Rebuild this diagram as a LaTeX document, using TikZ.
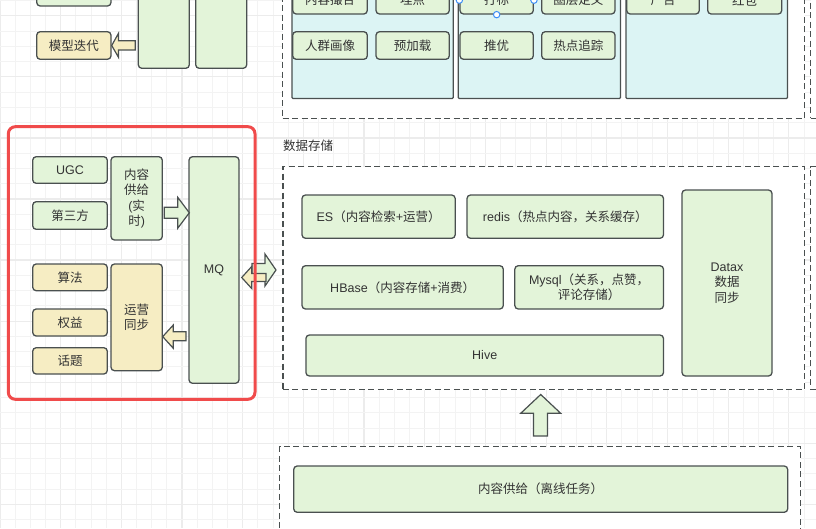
\documentclass[tikz,border=0pt]{standalone}
\usepackage{fontspec}
\setmainfont{Liberation Sans}
\newfontfamily\cjk{Noto Sans CJK SC}
\newcommand\C[1]{{\cjk #1}}
\newcommand\fs{\fontsize{12.5}{15.5}\selectfont}
\definecolor{bd}{HTML}{4A5050}
\definecolor{gfill}{HTML}{E3F4D9}
\definecolor{yfill}{HTML}{F6EDC3}
\definecolor{cfill}{HTML}{DCF4F4}
\definecolor{txt}{HTML}{333333}
\definecolor{redc}{HTML}{F04B4B}
\definecolor{gridmin}{HTML}{F3F3F3}
\definecolor{gridmaj}{HTML}{ECECEC}
\definecolor{handle}{HTML}{3D8EF7}
\tikzset{
  base/.style={draw=bd, line width=1.3pt, rounded corners=3.5pt, text=txt, align=center, inner sep=1pt, font=\fs},
  gbox/.style={base, fill=gfill},
  ybox/.style={base, fill=yfill},
  panel/.style={draw=bd, line width=1.3pt, fill=cfill, rounded corners=1pt},
  dashbox/.style={draw=bd, line width=1.2pt, dash pattern=on 6pt off 3.5pt, fill=white},
  redbox/.style={draw=redc, line width=3pt, rounded corners=7pt},
  garrow/.style={draw=bd, line width=1.2pt, fill=gfill, line join=miter},
  yarrow/.style={draw=bd, line width=1.2pt, fill=yfill, line join=miter},
  hdl/.style={draw=handle, line width=1pt, fill=white},
}
\newcommand\BX[7]{\node[#1, minimum width={(#5)-(#3)}, minimum height={(#6)-(#4)}] (#2) at ({((#3)+(#5))/2},{((#4)+(#6))/2}) {#7};}
\begin{document}
\begin{tikzpicture}[x=1pt,y=-1pt]
\useasboundingbox (0,0) rectangle (816,528);
\clip (0,0) rectangle (816,528);
% grid
\foreach \i in {0,...,54}{
  \pgfmathtruncatemacro\m{mod(\i,4)}
  \ifnum\m=0 \draw[gridmaj,line width=1.2pt] ({15.17*\i},0) -- ++(0,528);
  \else \draw[gridmin,line width=1pt] ({15.17*\i},0) -- ++(0,528); \fi
}
\foreach \j in {0,...,35}{
  \pgfmathtruncatemacro\m{mod(\j,4)}
  \ifnum\m=1 \draw[gridmaj,line width=1.2pt] (0,{0.5+15.27*\j}) -- ++(816,0);
  \else \draw[gridmin,line width=1pt] (0,{0.5+15.27*\j}) -- ++(816,0); \fi
}
% containers
\BX{dashbox}{topc}{282.7}{-10}{804.8}{118.3}{}
\BX{dashbox}{topr}{810.7}{-10}{840}{118.3}{}
\BX{dashbox}{store}{282.9}{166.7}{804.5}{389.5}{}
\BX{dashbox}{storer}{810.7}{166.7}{840}{389.5}{}
\BX{dashbox}{offc}{279.7}{446.7}{800.7}{545}{}
% panels
\BX{panel}{p1}{292}{-10}{453.3}{98.5}{}
\BX{panel}{p2}{458.3}{-10}{620.5}{98.5}{}
\BX{panel}{p3}{626}{-10}{787.5}{98.5}{}
% top row
\BX{gbox}{t1}{292.7}{-13.6}{367.3}{14}{\C{内容撮合}}
\BX{gbox}{t2}{376}{-13.6}{449.3}{14}{\C{埋点}}
\BX{gbox}{t3}{460}{-13.6}{533.3}{14}{\C{打标}}
\BX{gbox}{t4}{541.7}{-13.6}{615}{14}{\C{圈层定义}}
\BX{gbox}{t5}{626.7}{-13.6}{699.3}{14}{\C{广告}}
\BX{gbox}{t6}{707.7}{-13.6}{781.7}{14}{\C{红包}}
\BX{gbox}{r1}{292.7}{31.7}{367.3}{59.3}{\C{人群画像}}
\BX{gbox}{r2}{376}{31.7}{449.3}{59.3}{\C{预加载}}
\BX{gbox}{r3}{460}{31.7}{533.3}{59.3}{\C{推优}}
\BX{gbox}{r4}{541.7}{31.7}{615}{59.3}{\C{热点追踪}}
% selection handles
\draw[hdl] (t3.west) circle (3.2);
\draw[hdl] (t3.east) circle (3.2);
\draw[hdl] (t3.south) circle (3.2);
% top-left
\BX{gbox}{tl0}{36.7}{-21.6}{111}{6}{}
\BX{ybox}{mx}{36.7}{31.7}{111}{59.3}{\C{模型迭代}}
\BX{gbox}{tall1}{138.3}{-10}{189.3}{68.3}{}
\BX{gbox}{tall2}{195.7}{-10}{246.7}{68.3}{}
\draw[yarrow] (135.3,40.7) -- (118.5,40.7) -- (118.5,33.3) -- (111.7,45.5) -- (118.5,57.3) -- (118.5,50) -- (135.3,50) -- cycle;
% left group
\BX{gbox}{ugc}{32.7}{156.7}{107.3}{183.3}{UGC}
\BX{gbox}{dsf}{32.7}{201.7}{107.3}{229.3}{\C{第三方}}
\BX{gbox}{nrgj}{111}{156.7}{162.3}{240}{\C{内容}\\\C{供给}\\(\C{实}\\\C{时})}
\BX{gbox}{mq}{189}{156.7}{239}{383.3}{MQ}
\BX{ybox}{sf}{32.7}{264}{107.3}{290.7}{\C{算法}}
\BX{ybox}{qy}{32.7}{309}{107.3}{336}{\C{权益}}
\BX{ybox}{ht}{32.7}{347.7}{107.3}{374}{\C{话题}}
\BX{ybox}{yytb}{111}{264}{162.3}{370.7}{\C{运营}\\\C{同步}}
\draw[garrow] (164.3,207.3) -- (177.7,207.3) -- (177.7,197.3) -- (189.3,212.8) -- (177.7,228.3) -- (177.7,218.3) -- (164.3,218.3) -- cycle;
\draw[yarrow] (186,331.7) -- (173.3,331.7) -- (173.3,325) -- (162.7,336.6) -- (173.3,348.3) -- (173.3,340.7) -- (186,340.7) -- cycle;
% double arrow MQ <-> storage
\draw[garrow] (252,263.5) -- (265,263.5) -- (265,254) -- (276,270) -- (265,286) -- (265,276.5) -- (252,276.5) -- cycle;
\draw[yarrow] (266,273.5) -- (251.7,273.5) -- (251.7,266.5) -- (241.7,277.5) -- (251.7,288.5) -- (251.7,281.5) -- (266,281.5) -- cycle;
\BX{redbox}{redr}{8.3}{126.7}{255}{399.3}{}
% storage
\node[text=txt, font=\fs, anchor=west, inner sep=0] (lbl) at (283,145.7) {\C{数据存储}};
\BX{gbox}{es}{302}{195}{455.2}{238.3}{ES\C{（内容检索}+\C{运营）}}
\BX{gbox}{redis}{467}{195}{663.5}{238.3}{redis\C{（热点内容，关系缓存）}}
\BX{gbox}{datax}{682}{190}{772}{376}{\fontsize{12.5}{16.5}\selectfont Datax\\\C{数据}\\\C{同步}}
\BX{gbox}{hbase}{302}{265.7}{503.3}{309}{HBase\C{（内容存储}+\C{消费）}}
\BX{gbox}{mysql}{514.8}{265.7}{663.5}{309}{Mysql\C{（关系，点赞，}\\\C{评论存储）}}
\BX{gbox}{hive}{305.9}{335}{663.5}{376}{Hive}
\draw[garrow] (533.5,436) -- (533.5,413.3) -- (520.7,413.3) -- (540.7,394.5) -- (560.7,413.3) -- (547.4,413.3) -- (547.4,436) -- cycle;
\BX{gbox}{off}{293.7}{466}{787.7}{512.3}{\C{内容供给（离线任务）}}
\end{tikzpicture}
\end{document}
